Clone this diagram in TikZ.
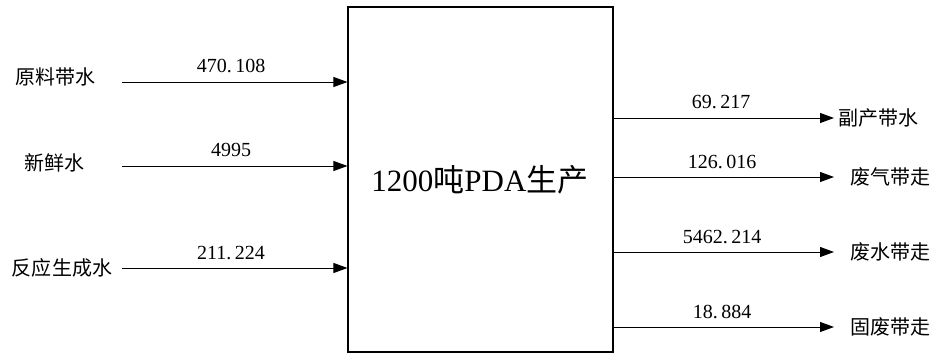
\documentclass[tikz,border=0pt]{standalone}
\usepackage{fontspec}
\setmainfont{Liberation Serif}
\newfontfamily\cjk{Noto Sans CJK SC}
\usetikzlibrary{arrows.meta}
\newcommand{\pt}{.\hspace{3.5pt}}
\tikzset{
  flow/.style={draw=black, line width=0.9pt, -{Triangle[length=14pt,width=10pt]}},
  numlabel/.style={font=\fontsize{20}{22}\selectfont, inner sep=0pt},
  cnlabel/.style={font=\cjk\fontsize{20}{22}\selectfont, inner sep=0pt},
  process/.style={draw=black, line width=1.1pt, minimum width=265pt, minimum height=345pt, inner sep=0pt}
}
\begin{document}
\begin{tikzpicture}[x=1pt, y=-1pt]
  \useasboundingbox (0,0) rectangle (936,356);

  % central process block
  \node[process] (P) at (480.5,179.5) {};
  \node[inner sep=0pt, font=\fontsize{31}{34}\selectfont] (title) at (480,180)
    {1200{\cjk 吨}PDA{\cjk 生产}};

  % inflows
  \node[cnlabel] (in1) at (55,77) {原料带水};
  \node[cnlabel] (in2) at (54,163) {新鲜水};
  \node[cnlabel] (in3) at (62,268) {反应生成水};
  \coordinate (s1) at (122,82);
  \coordinate (s2) at (122,166);
  \coordinate (s3) at (122,268);
  \draw[flow] (s1) -- (s1 -| P.west);
  \draw[flow] (s2) -- (s2 -| P.west);
  \draw[flow] (s3) -- (s3 -| P.west);
  \node[numlabel] (v1) at (231,66) {470\pt108};
  \node[numlabel] (v2) at (231,150) {4995};
  \node[numlabel] (v3) at (231,253) {211\pt224};

  % outflows
  \coordinate (e1) at (834,118);
  \coordinate (e2) at (834,177);
  \coordinate (e3) at (834,252);
  \coordinate (e4) at (834,327);
  \draw[flow] (e1 -| P.east) -- (e1);
  \draw[flow] (e2 -| P.east) -- (e2);
  \draw[flow] (e3 -| P.east) -- (e3);
  \draw[flow] (e4 -| P.east) -- (e4);
  \node[numlabel] (w1) at (721,102) {69\pt217};
  \node[numlabel] (w2) at (722,162) {126\pt016};
  \node[numlabel] (w3) at (722,237) {5462\pt214};
  \node[numlabel] (w4) at (722,312) {18\pt884};
  \node[cnlabel, anchor=west] (out1) at (838,118) {副产带水};
  \node[cnlabel, anchor=west] (out2) at (850,177) {废气带走};
  \node[cnlabel, anchor=west] (out3) at (850,252) {废水带走};
  \node[cnlabel, anchor=west] (out4) at (850,327) {固废带走};
\end{tikzpicture}
\end{document}
